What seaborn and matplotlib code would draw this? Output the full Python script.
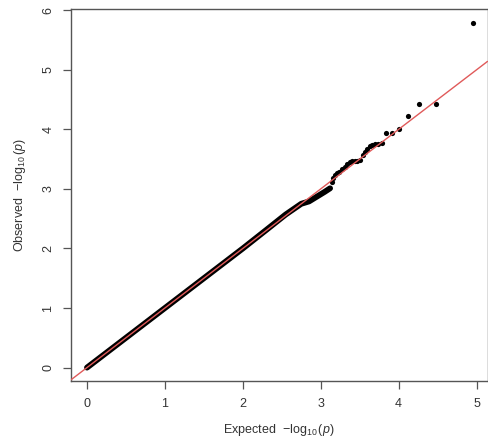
import matplotlib
matplotlib.use("Agg")
import matplotlib.pyplot as plt
import seaborn as sns
import pandas as pd

# Dense bulk of the QQ points, drawn as a thick band
bulk_expected = [0.0, 0.5, 1.0, 1.5, 2.0, 2.3, 2.55, 2.75, 2.85, 2.95, 3.05, 3.12]
bulk_observed = [0.0, 0.5, 1.0, 1.5, 2.0, 2.31, 2.57, 2.75, 2.79, 2.87, 2.95, 3.01]

# Sparser upper tail points
tail_expected = [3.14, 3.16, 3.18, 3.21, 3.24, 3.27, 3.31, 3.34, 3.37, 3.40, 3.44, 3.47,
                 3.50, 3.54, 3.57, 3.60, 3.63, 3.66, 3.70, 3.74, 3.78, 3.84, 3.92, 4.00,
                 4.12, 4.26, 4.48, 4.96]
tail_observed = [3.12, 3.18, 3.23, 3.26, 3.29, 3.33, 3.37, 3.42, 3.45, 3.46, 3.46, 3.47,
                 3.49, 3.57, 3.62, 3.67, 3.72, 3.74, 3.75, 3.76, 3.77, 3.93, 3.94, 4.01,
                 4.22, 4.42, 4.43, 5.78]

x_ticks = [0, 1, 2, 3, 4, 5]
y_ticks = [0, 1, 2, 3, 4, 5, 6]

sns.set_theme(style="white")
plt.rcParams['font.family'] = ['Liberation Sans', 'DejaVu Sans']
plt.rcParams['mathtext.fontset'] = 'custom'
plt.rcParams['mathtext.rm'] = 'Liberation Sans'
plt.rcParams['mathtext.it'] = 'Liberation Sans:italic'

bulk = pd.DataFrame({"expected": bulk_expected, "observed": bulk_observed})
tail = pd.DataFrame({"expected": tail_expected, "observed": tail_observed})

fig = plt.figure(figsize=(4.88, 4.42), dpi=100)
ax = fig.add_axes([71/488, 61/442, (487.5-71)/488, (381-9)/442])

line = sns.lineplot(data=bulk, x="expected", y="observed", ax=ax, color="black",
                    linewidth=4.2, solid_capstyle="round", sort=False, zorder=2)
sns.scatterplot(data=tail, x="expected", y="observed", ax=ax, color="black",
                s=14, linewidth=0, zorder=2)
ax.axline((0, 0), slope=1, color="#e05a5a", linewidth=1.0, zorder=3)

ax.set_xlim(-0.205, 5.14)
ax.set_ylim(-0.225, 6.02)
ax.set_xticks(x_ticks)
ax.set_yticks(y_ticks)
ax.set_xticklabels([str(v) for v in x_ticks], fontsize=9, color="#333333")
ax.set_yticklabels([str(v) for v in y_ticks], fontsize=9, color="#333333",
                   rotation=90, va="center")
ax.tick_params(axis="both", direction="out", length=5.5, width=0.9,
               color="#555555", pad=6.5, bottom=True, left=True)
for sp in ax.spines.values():
    sp.set_color("#555555")
    sp.set_linewidth(1.0)

ax.set_xlabel(r"Expected  $-\log_{10}(p)$", fontsize=9, color="#333333", labelpad=9)
ax.set_ylabel(r"Observed  $-\log_{10}(p)$", fontsize=9, color="#333333", labelpad=10)

fig.savefig("out.png", dpi=100)
